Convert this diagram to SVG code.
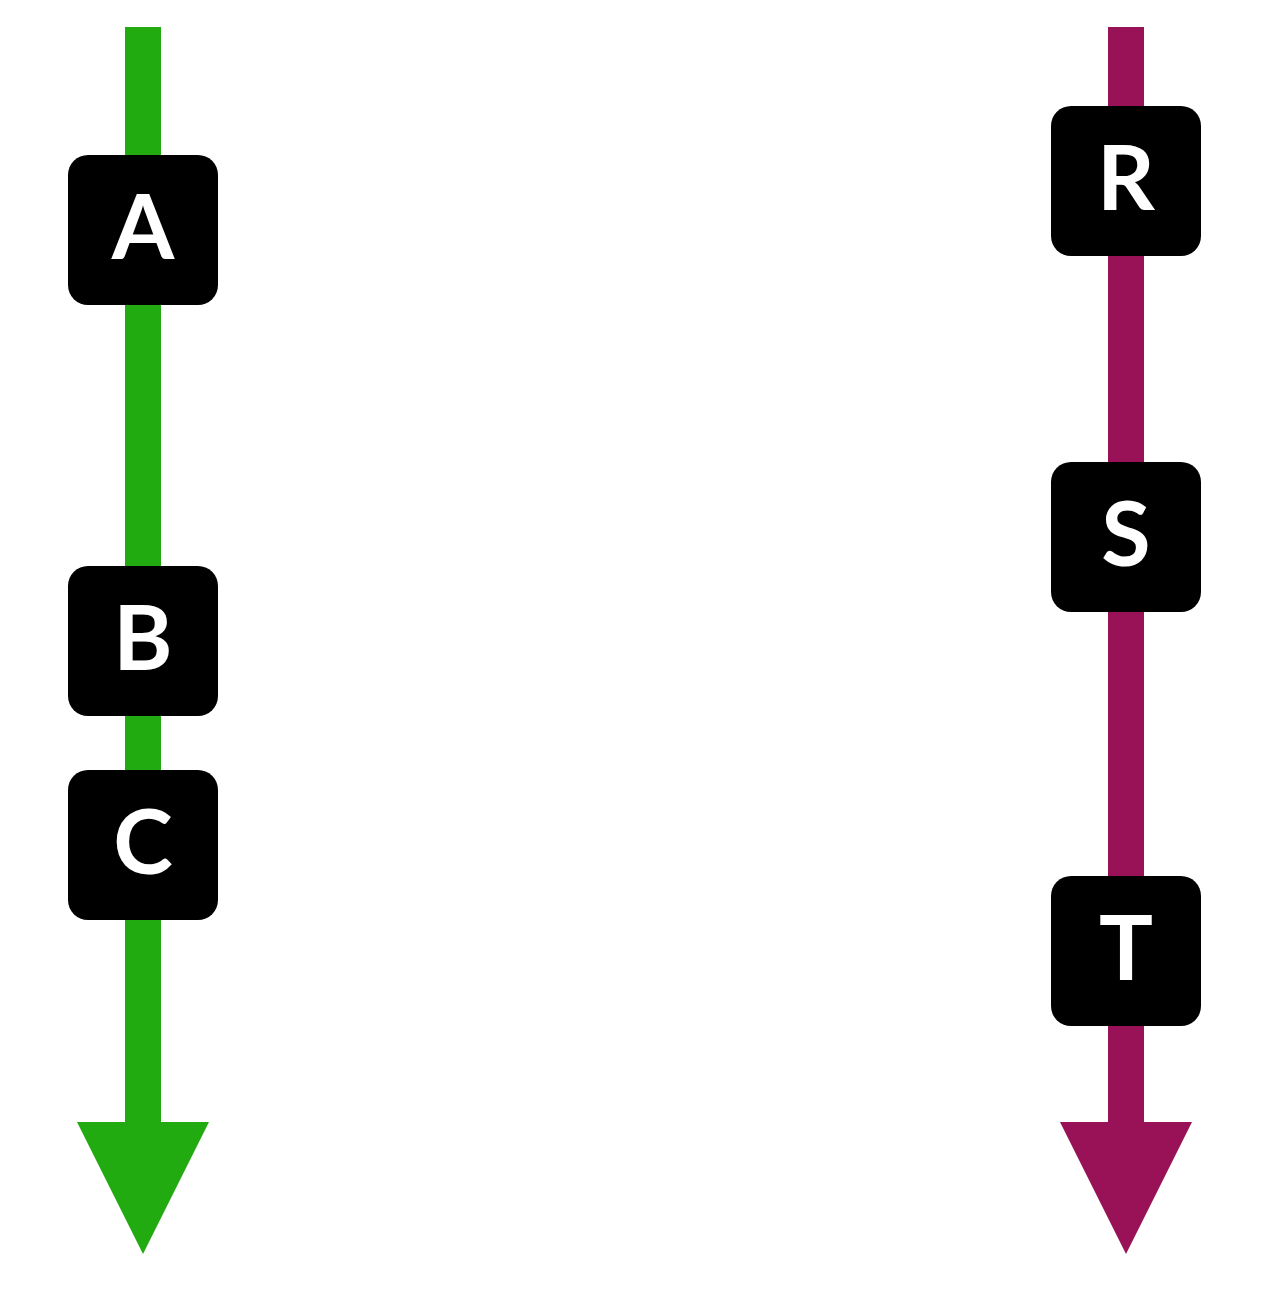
<svg xmlns="http://www.w3.org/2000/svg" width="1268" height="1300" viewBox="0 0 1268 1300">
<style>
.box{fill:#000}
.lbl{fill:#fff;font-family:Lato,"Open Sans","Liberation Sans",sans-serif;font-weight:700;font-size:90px;text-anchor:middle}
</style>
<rect width="1268" height="1300" fill="#fff"/>
<g id="connectors">
<rect x="125" y="27" width="36" height="1100" fill="#22aa11"/>
<polygon points="77,1122 209,1122 143,1254" fill="#22aa11"/>
<rect x="1108" y="27" width="36" height="1100" fill="#991257"/>
<polygon points="1060,1122 1192,1122 1126,1254" fill="#991257"/>
</g>
<g id="A"><rect class="box" x="68" y="155" width="150" height="150" rx="20"/><text class="lbl" x="143" y="259">A</text></g>
<g id="B"><rect class="box" x="68" y="566" width="150" height="150" rx="20"/><text class="lbl" x="143" y="670">B</text></g>
<g id="C"><rect class="box" x="68" y="770" width="150" height="150" rx="20"/><text class="lbl" x="143" y="874">C</text></g>
<g id="R"><rect class="box" x="1051" y="106" width="150" height="150" rx="20"/><text class="lbl" x="1126" y="210">R</text></g>
<g id="S"><rect class="box" x="1051" y="462" width="150" height="150" rx="20"/><text class="lbl" x="1126" y="566">S</text></g>
<g id="T"><rect class="box" x="1051" y="876" width="150" height="150" rx="20"/><text class="lbl" x="1126" y="980">T</text></g>
</svg>
